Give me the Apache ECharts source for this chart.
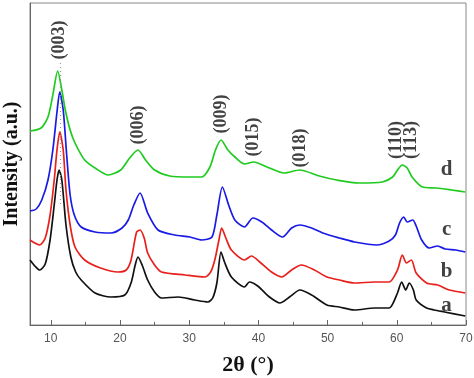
<!DOCTYPE html>
<html>
<head>
<meta charset="utf-8">
<script src="https://cdn.jsdelivr.net/npm/echarts@6/dist/echarts.min.js"></script>
<style>
  html, body { margin: 0; padding: 0; background: #fff; }
  #main { width: 474px; height: 378px; }
</style>
</head>
<body>
<div id="main"></div>
<script>
// 曲线数据 [2θ, 强度]
const curveA = [
  [7.0, 65], [7.7, 59], [8.4, 55], [9.2, 61], [9.9, 85], [10.5, 120], [10.9, 145], [11.2, 155],
  [11.6, 145], [12.2, 100], [12.9, 68], [13.6, 53], [14.4, 45], [16.4, 32], [18.7, 28], [20.7, 30],
  [21.6, 42], [22.2, 60], [22.6, 68], [23.2, 60], [24.0, 45], [25.0, 33], [26.0, 27], [28.4, 28],
  [30.8, 25], [32.7, 23], [33.4, 27], [34.0, 42], [34.6, 73], [35.1, 63], [36.1, 48], [38.0, 38],
  [38.7, 43], [39.9, 39], [41.6, 28], [43.1, 22], [44.5, 28], [46.0, 35], [47.7, 30], [49.9, 20],
  [51.7, 18], [53.9, 15], [56.8, 17], [58.9, 17], [60.1, 32], [60.7, 43], [61.3, 35], [61.8, 42],
  [62.4, 35], [62.8, 25], [64.3, 17], [65.4, 15], [66.9, 13], [69.9, 9]
];
const curveB = [
  [7.0, 85], [7.7, 82], [8.4, 80], [9.2, 87], [9.9, 110], [10.5, 145], [10.9, 175], [11.3, 193],
  [11.8, 175], [12.2, 135], [12.8, 100], [13.5, 78], [14.9, 65], [17.2, 57], [19.7, 53], [20.9, 55],
  [21.6, 65], [22.4, 93], [22.9, 95], [23.5, 87], [24.0, 72], [25.0, 60], [26.0, 53], [29.4, 50],
  [32.3, 48], [33.1, 53], [33.7, 65], [34.3, 85], [34.7, 97], [35.3, 87], [36.1, 75], [38.0, 65],
  [39.0, 69], [40.2, 63], [41.9, 53], [43.4, 48], [44.8, 55], [46.2, 60], [48.1, 55], [49.9, 48],
  [51.7, 45], [53.9, 42], [56.8, 43], [58.9, 43], [60.1, 55], [60.8, 70], [61.4, 62], [62.1, 65],
  [62.8, 52], [64.3, 42], [65.9, 40], [67.6, 35], [69.9, 32]
];
const curveC = [
  [7.0, 114], [7.9, 116], [8.7, 125], [9.6, 145], [10.3, 175], [10.9, 213], [11.3, 233], [11.8, 215],
  [12.3, 170], [12.8, 130], [13.4, 110], [14.4, 98], [16.4, 93], [18.7, 92], [20.3, 97], [21.2, 105],
  [22.0, 120], [22.9, 132], [24.0, 112], [25.5, 95], [27.9, 90], [30.1, 88], [31.8, 85], [33.3, 88],
  [34.0, 110], [34.8, 138], [35.7, 120], [36.6, 105], [38.0, 98], [39.2, 107], [40.5, 103], [41.9, 95],
  [43.5, 88], [44.8, 97], [46.0, 100], [47.7, 97], [49.3, 92], [51.7, 87], [53.9, 83], [57.1, 80],
  [58.9, 84], [59.8, 90], [60.4, 102], [61.0, 108], [61.5, 103], [62.3, 105], [62.8, 99], [63.6, 85],
  [64.7, 77], [65.9, 79], [67.0, 76], [68.5, 75], [69.9, 73]
];
const curveD = [
  [7.0, 194], [8.6, 197], [9.6, 208], [10.3, 230], [11.0, 254], [11.6, 235], [12.1, 215], [12.8, 195],
  [13.5, 182], [14.9, 165], [16.4, 157], [18.3, 150], [20.1, 155], [21.4, 167], [22.6, 175], [23.7, 165],
  [25.0, 155], [27.2, 149], [30.1, 148], [31.8, 148], [33.0, 158], [33.8, 175], [34.6, 185], [35.6, 175],
  [36.6, 168], [38.0, 161], [39.3, 163], [41.6, 157], [43.7, 152], [46.0, 155], [48.8, 149], [51.3, 145],
  [54.6, 142], [57.9, 143], [59.4, 148], [60.1, 155], [60.8, 160], [61.5, 157], [62.2, 148], [63.7, 138],
  [65.7, 137], [67.9, 135], [69.9, 133]
];

// 衍射峰标注
const peakNames = ['(003)', '(006)', '(009)', '(015)', '(018)', '(110)', '(113)'];
const peakPos = [[11.2, 285], [22.6, 200], [34.7, 211], [39.3, 188], [46.0, 177], [60.0, 185], [62.1, 185]];

// 曲线编号
const curveNames = ['a', 'b', 'c', 'd'];
const curveNamePos = [[67.2, 19], [67.2, 53], [67.2, 95], [67.2, 155]];

// 坐标轴刻度
const majorTicks = [10, 20, 30, 40, 50, 60, 70];
const minorTicks = [15, 25, 35, 45, 55, 65];
const guideLine = [[11.3, 262], [11.3, 120]];

var myChart = echarts.init(document.getElementById('main'));

const serif = '"Liberation Serif", "Times New Roman", serif';

var option = {
  animation: false,
  backgroundColor: '#fff',
  grid: {
    left: 30,
    right: 8,
    top: 3,
    bottom: 53,
    outerBoundsMode: 'none',
    show: true,
    borderColor: '#888',
    borderWidth: 1
  },
  xAxis: [
    {
      type: 'value',
      min: 7,
      max: 70,
      name: '2θ (°)',
      nameLocation: 'middle',
      nameGap: 29,
      nameTextStyle: { fontFamily: serif, fontWeight: 'bold', fontSize: 22, color: '#111' },
      axisLine: { lineStyle: { color: '#666', width: 1 } },
      axisTick: { inside: true, length: 5, customValues: majorTicks, lineStyle: { color: '#666' } },
      axisLabel: { customValues: majorTicks, color: '#555', fontSize: 12, fontFamily: '"Liberation Sans", Arial', margin: 8 },
      splitLine: { show: false }
    },
    {
      type: 'value',
      min: 7,
      max: 70,
      position: 'bottom',
      axisLine: { show: false },
      axisTick: { inside: true, length: 3, customValues: minorTicks, lineStyle: { color: '#666' } },
      axisLabel: { show: false },
      splitLine: { show: false }
    }
  ],
  yAxis: {
    type: 'value',
    min: 0,
    max: 322,
    name: 'Intensity (a.u.)',
    nameLocation: 'middle',
    nameGap: 8,
    nameTextStyle: { fontFamily: serif, fontWeight: 'bold', fontSize: 20, color: '#111' },
    axisLine: { show: true, lineStyle: { color: '#666' } },
    axisTick: { show: false },
    axisLabel: { show: false },
    splitLine: { show: false }
  },
  series: [
    { name: 'a', type: 'line', data: curveA, showSymbol: false, smooth: 0.25, lineStyle: { color: '#111', width: 1.7 } },
    { name: 'b', type: 'line', data: curveB, showSymbol: false, smooth: 0.25, lineStyle: { color: '#e8201c', width: 1.7 } },
    { name: 'c', type: 'line', data: curveC, showSymbol: false, smooth: 0.25, lineStyle: { color: '#1a1ae6', width: 1.7 } },
    {
      name: 'd', type: 'line', data: curveD, showSymbol: false, smooth: 0.25, lineStyle: { color: '#1ecb1e', width: 1.7 },
      markLine: {
        silent: true,
        symbol: 'none',
        label: { show: false },
        lineStyle: { color: '#999', type: [1, 3], width: 1.2 },
        data: [[{ coord: guideLine[0] }, { coord: guideLine[1] }]]
      }
    },
    {
      type: 'scatter',
      symbolSize: 0,
      data: peakNames.map(function (n, i) { return { name: n, value: peakPos[i] }; }),
      label: {
        show: true,
        position: 'inside',
        rotate: 90,
        formatter: '{b}',
        fontFamily: serif,
        fontWeight: 'bold',
        fontSize: 18,
        color: '#111'
      }
    },
    {
      type: 'scatter',
      symbolSize: 0,
      data: curveNames.map(function (n, i) { return { name: n, value: curveNamePos[i] }; }),
      label: {
        show: true,
        position: 'inside',
        formatter: '{b}',
        fontFamily: serif,
        fontWeight: 'bold',
        fontSize: 21,
        color: '#111'
      }
    }
  ]
};

myChart.setOption(option);
</script>
</body>
</html>
